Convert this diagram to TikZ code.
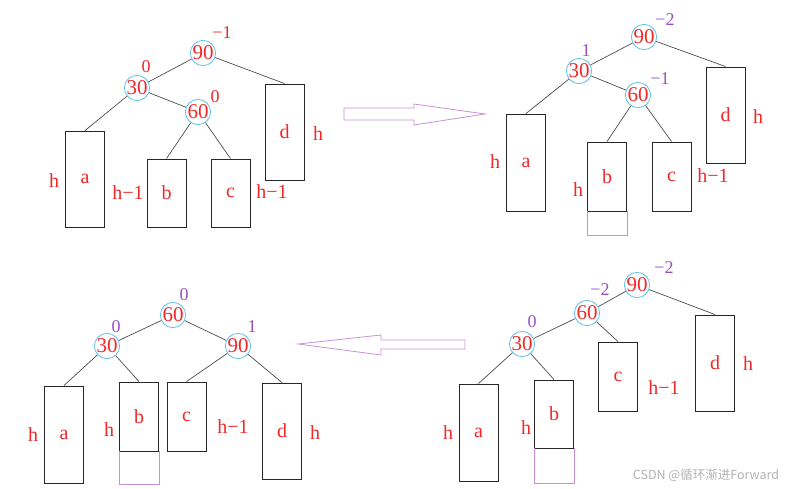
\documentclass[tikz,border=0pt]{standalone}
\usepackage{fontspec}
\setmainfont{Liberation Serif}
\newfontfamily\cjk{Noto Sans CJK SC}
\usepackage{xcolor}
\usepackage{tikz}

\definecolor{lblred}{HTML}{F02828}
\definecolor{lblpurple}{HTML}{9A50C0}
\definecolor{ringblue}{HTML}{5CC0EA}
\definecolor{arrowpink}{HTML}{C890D8}

\tikzset{
	vert/.style={circle,draw=ringblue,line width=0.8pt,inner sep=0pt,minimum size=24pt,text=lblred,font=\fontsize{21}{21}\selectfont},
	tree/.style={rectangle,draw=black!85,line width=0.9pt,inner sep=0pt,minimum width=39pt,text=lblred,font=\fontsize{20}{20}\selectfont},
	hgt/.style={text=lblred,inner sep=0pt,font=\fontsize{20}{20}\selectfont},
	bfred/.style={text=lblred,inner sep=0pt,font=\fontsize{18}{18}\selectfont},
	bfpurple/.style={text=lblpurple,inner sep=0pt,font=\fontsize{18}{18}\selectfont},
	edge/.style={draw=black!70,line width=0.7pt},
	extra/.style={draw=arrowpink,line width=0.9pt},
	bigarrow/.style={draw=arrowpink,line width=0.8pt,line join=miter}
}

\begin{document}
\begin{tikzpicture}[x=1pt,y=-1pt]
	\useasboundingbox (0,0) rectangle (795,489);
	
	% top left: before insertion
	\node[vert] (A90) at (203,53) {90};
	\node[vert] (A30) at (137,88) {30};
	\node[vert] (A60) at (198,112) {60};
	\node[bfred] (A90f) at (222,33) {−1};
	\node[bfred] (A30f) at (146,67) {0};
	\node[bfred] (A60f) at (215,97) {0};
	\node[tree,minimum height=96pt] (Aa) at (85,179) {a};
	\node[tree,minimum height=68pt] (Ab) at (166.5,193) {b};
	\node[tree,minimum height=68pt] (Ac) at (230.5,193) {c};
	\node[tree,minimum height=96pt] (Ad) at (284.5,132) {d};
	\node[hgt] (Aah) at (54,181) {h};
	\node[hgt] (Abh) at (128,193) {h−1};
	\node[hgt] (Ach) at (272,192) {h−1};
	\node[hgt] (Adh) at (318,134) {h};
	\draw[edge] (A90) -- (A30) (A90) -- (Ad.north) (A30) -- (A60)
		(A30) -- (Aa.north) (A60) -- (Ab.north) (A60) -- (Ac.north);
	
	% top right: b grows
	\node[vert] (B90) at (644,37) {90};
	\node[vert] (B30) at (579,71) {30};
	\node[vert] (B60) at (638,95) {60};
	\node[bfpurple] (B90f) at (665,20) {−2};
	\node[bfpurple] (B30f) at (586,51) {1};
	\node[bfpurple] (B60f) at (660,79) {−1};
	\node[tree,minimum height=97pt] (Ba) at (526,162.5) {a};
	\node[tree,minimum height=69pt] (Bb) at (607,176.5) {b};
	\node[tree,minimum height=69pt] (Bc) at (671.5,176.5) {c};
	\node[tree,minimum height=96pt] (Bd) at (725.5,115) {d};
	\draw[extra] (Bb.south west) -- ++(0,24) -- ++(40,0) -- ++(0,-24);
	\node[hgt] (Bah) at (495,162) {h};
	\node[hgt] (Bbh) at (578,190) {h};
	\node[hgt] (Bch) at (713,176) {h−1};
	\node[hgt] (Bdh) at (758,117) {h};
	\draw[edge] (B90) -- (B30) (B90) -- (Bd.north) (B30) -- (B60)
		(B30) -- (Ba.north) (B60) -- (Bb.north) (B60) -- (Bc.north);
	
	% bottom right: after first rotation
	\node[vert] (D90) at (637,285) {90};
	\node[vert] (D60) at (587,313) {60};
	\node[vert] (D30) at (522,344) {30};
	\node[bfpurple] (D90f) at (664,268) {−2};
	\node[bfpurple] (D60f) at (600,290) {−2};
	\node[bfpurple] (D30f) at (532,322) {0};
	\node[tree,minimum height=97pt] (Da) at (478.5,432.5) {a};
	\node[tree,minimum height=68pt] (Db) at (554,414) {b};
	\node[tree,minimum height=69pt] (Dc) at (618,376.5) {c};
	\node[tree,minimum height=96pt] (Dd) at (715,363) {d};
	\draw[extra] (Db.south west) -- ++(0,35) -- ++(40,0) -- ++(0,-35);
	\node[hgt] (Dah) at (448,433) {h};
	\node[hgt] (Dbh) at (526,428) {h};
	\node[hgt] (Dch) at (664,388) {h−1};
	\node[hgt] (Ddh) at (748,364) {h};
	\draw[edge] (D90) -- (D60) (D90) -- (Dd.north) (D60) -- (D30)
		(D60) -- (Dc.north) (D30) -- (Da.north) (D30) -- (Db.north);
	
	% bottom left: balanced again
	\node[vert] (C60) at (173,315) {60};
	\node[vert] (C30) at (107,346) {30};
	\node[vert] (C90) at (238,346) {90};
	\node[bfpurple] (C60f) at (184,295) {0};
	\node[bfpurple] (C30f) at (116,327) {0};
	\node[bfpurple] (C90f) at (252,327) {1};
	\node[tree,minimum height=97pt] (Ca) at (64,434.5) {a};
	\node[tree,minimum height=69pt] (Cb) at (139,416.5) {b};
	\node[tree,minimum height=69pt] (Cc) at (186.5,416.5) {c};
	\node[tree,minimum height=96pt] (Cd) at (282,431) {d};
	\draw[extra] (Cb.south west) -- ++(0,33) -- ++(40,0) -- ++(0,-33);
	\node[hgt] (Cah) at (33,435) {h};
	\node[hgt] (Cbh) at (109,430) {h};
	\node[hgt] (Cch) at (233,427) {h−1};
	\node[hgt] (Cdh) at (315,433) {h};
	\draw[edge] (C60) -- (C30) (C60) -- (C90) (C30) -- (Ca.north)
		(C30) -- (Cb.north) (C90) -- (Cc.north) (C90) -- (Cd.north);
	
	% hollow arrows
	\draw[bigarrow] (344,108) -- (414,108) -- (414,104) -- (485,114)
		-- (414,125) -- (414,120) -- (344,120) -- cycle;
	\draw[bigarrow] (465,340) -- (381,340) -- (381,335) -- (298,344)
		-- (381,355) -- (381,349) -- (465,349) -- cycle;
	
	\node[text=black!30,inner sep=0pt,font=\cjk\fontsize{12.5}{12.5}\selectfont] (mark) at (706,475) {CSDN @循环渐进Forward};
\end{tikzpicture}
\end{document}
